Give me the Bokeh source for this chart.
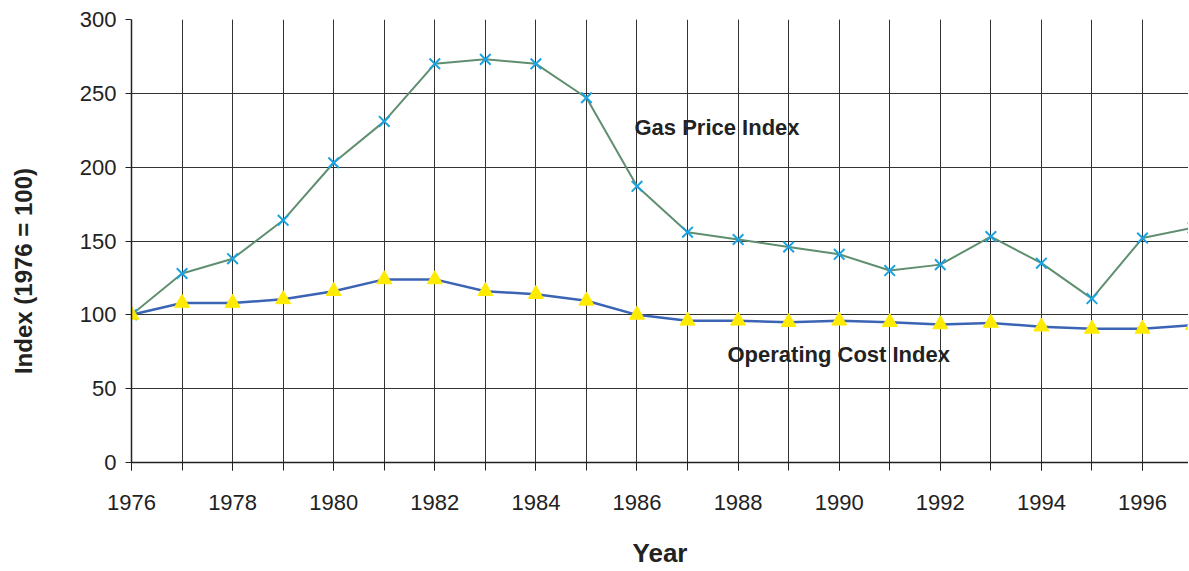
from bokeh.plotting import figure
from bokeh.models import FixedTicker, Range1d, Label
from bokeh.embed import file_html
from bokeh.resources import INLINE

years = list(range(1976, 1998))
gas_price = [100, 128, 138, 164, 203, 231, 270, 273, 270, 247, 187, 156, 151, 146,
             141, 130, 134, 153, 135, 111, 152, 159]
operating_cost = [100, 108, 108, 110.5, 116, 124, 124, 116, 114, 109.5, 100, 96, 96, 95,
                  96, 95, 93.5, 94.5, 92, 90.5, 90.5, 93]
label_years = list(range(1976, 1998, 2))
y_ticks = [0, 50, 100, 150, 200, 250, 300]

FONT = "Liberation Sans"

p = figure(width=1188, height=570, output_backend="svg", toolbar_location=None,
           x_range=Range1d(1976, 1996.91), y_range=Range1d(0, 300),
           min_border_left=131, min_border_right=0, min_border_top=19, min_border_bottom=108)
p.outline_line_color = None
p.background_fill_color = "white"

# grid
p.xaxis.ticker = FixedTicker(ticks=label_years, minor_ticks=years)
p.yaxis.ticker = FixedTicker(ticks=y_ticks, minor_ticks=[])
p.xgrid.grid_line_color = "#333333"
p.xgrid.minor_grid_line_color = "#333333"
p.ygrid.grid_line_color = "#333333"
p.xgrid.grid_line_width = 1
p.ygrid.grid_line_width = 1

for ax in (p.xaxis, p.yaxis):
    ax.axis_line_color = "#222222"
    ax.axis_line_width = 1.5
    ax.major_tick_line_color = "#222222"
    ax.minor_tick_line_color = "#222222"
    ax.major_tick_in = 0
    ax.minor_tick_in = 0
    ax.major_label_text_font = FONT
    ax.major_label_text_font_size = "22px"
    ax.major_label_text_color = "#222222"
    ax.axis_label_text_font = FONT
    ax.axis_label_text_font_style = "bold"
    ax.axis_label_text_color = "#222222"

p.xaxis.major_tick_out = 8
p.xaxis.minor_tick_out = 8
p.xaxis.major_label_standoff = 24
p.xaxis.axis_label = "Year"
p.xaxis.axis_label_text_font_size = "26px"
p.xaxis.axis_label_standoff = 25

p.yaxis.major_tick_out = 6
p.yaxis.minor_tick_out = 0
p.yaxis.major_label_standoff = 9
# trailing non-breaking spaces shift the rotated title down along the axis, as in the reference
p.yaxis.axis_label = "Index (1976 = 100)" + "\u00a0" * 9
p.yaxis.axis_label_text_font_size = "24px"
p.yaxis.axis_label_standoff = 40

# series
p.line(years, gas_price, line_color="#5f8f70", line_width=2)
p.scatter(years, gas_price, marker="x", size=15, line_color="#1aa3e0", line_width=2)

p.line(years, operating_cost, line_color="#3b64b5", line_width=2.5)
p.scatter(years, operating_cost, marker="triangle", size=15,
          fill_color="#ffeb00", line_color="#ffeb00")

p.add_layout(Label(x=1985.95, y=226.9, text="Gas Price Index", text_font=FONT,
                   text_font_style="bold", text_font_size="22px", text_color="#222222",
                   text_baseline="middle"))
p.add_layout(Label(x=1987.79, y=73.1, text="Operating Cost Index", text_font=FONT,
                   text_font_style="bold", text_font_size="22px", text_color="#222222",
                   text_baseline="middle"))

open("out.html", "w").write(file_html(p, INLINE))
